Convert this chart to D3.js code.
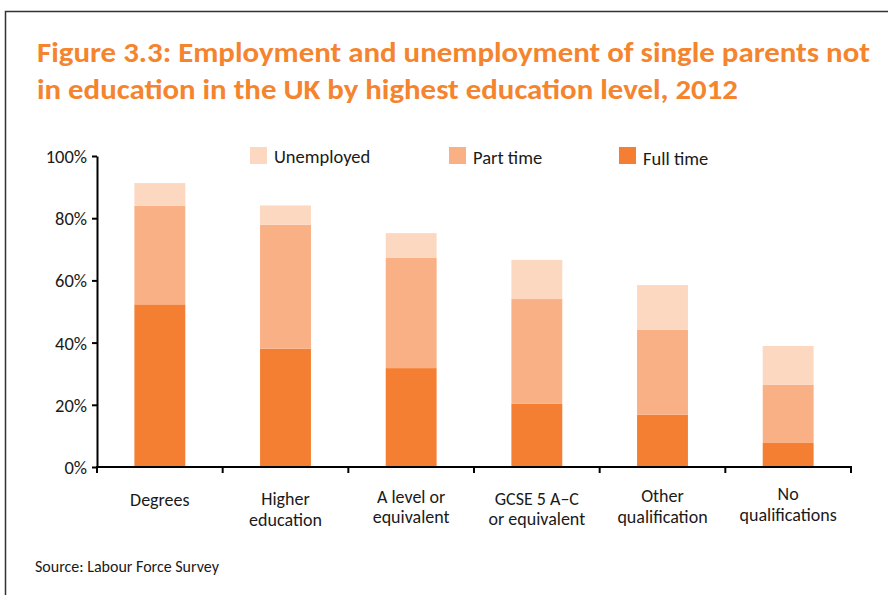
<!DOCTYPE html>
<html>
<head>
<meta charset="utf-8">
<script src="https://cdn.jsdelivr.net/npm/d3@7"></script>
<style>
  html, body { margin: 0; padding: 0; background: #fff; }
  svg { display: block; }
  text { font-family: Carlito, Lato, "Open Sans", sans-serif; }
</style>
</head>
<body>
<svg id="chart" width="888" height="595"></svg>
<script>
const categories = [
  ["Degrees"],
  ["Higher", "education"],
  ["A level or", "equivalent"],
  ["GCSE 5 A\u2013C", "or equivalent"],
  ["Other", "qualification"],
  ["No", "qualifications"]
];
const fullTime   = [52.3, 38.0, 31.8, 20.3, 16.8, 7.9];
const partTime   = [31.7, 39.9, 35.4, 33.7, 27.3, 18.6];
const unemployed = [7.3, 6.2, 8.0, 12.6, 14.4, 12.4];
const seriesNames = ["Full time", "Part time", "Unemployed"];
const seriesColors = ["#F47F32", "#F9B085", "#FCD8C1"];
const yTicks = [0, 20, 40, 60, 80, 100];
const titleLines = [
  "Figure 3.3: Employment and unemployment of single parents not",
  "in education in the UK by highest education level, 2012"
];
const sourceText = "Source: Labour Force Survey";

const svg = d3.select("#chart");

// frame
svg.append("path")
  .attr("d", "M5.5,600 L5.5,11.5 L895,11.5")
  .attr("fill", "none").attr("stroke", "#333").attr("stroke-width", 1.5);

// title
const titleWidths = [833, 701];
titleLines.forEach((t, i) => {
  svg.append("text")
    .attr("x", 37).attr("y", 62 + i * 36.5)
    .attr("font-size", 29).attr("font-weight", "bold")
    .attr("fill", "#F5842E")
    .attr("textLength", titleWidths[i])
    .attr("lengthAdjust", "spacingAndGlyphs")
    .text(t);
});

const x = d3.scaleBand().domain(d3.range(categories.length)).range([97, 851]).padding(0);
const y = d3.scaleLinear().domain([0, 100]).range([467, 156]);

const rows = categories.map((c, i) => ({
  i, "Full time": fullTime[i], "Part time": partTime[i], "Unemployed": unemployed[i]
}));
const stack = d3.stack().keys(seriesNames)(rows);
const barW = x.bandwidth() * 0.405;

const g = svg.append("g");
stack.forEach((layer, li) => {
  g.selectAll(null).data(layer).enter().append("rect")
    .attr("x", d => x(d.data.i) + (x.bandwidth() - barW) / 2)
    .attr("y", d => y(d[1]))
    .attr("width", barW)
    .attr("height", d => y(d[0]) - y(d[1]))
    .attr("fill", seriesColors[li]);
});

// y axis
const yAxis = svg.append("g").attr("transform", "translate(97,0)")
  .call(d3.axisLeft(y).tickValues(yTicks).tickFormat(d => d + "%").tickSize(5).tickSizeOuter(0));
yAxis.select(".domain").attr("stroke", "#000").attr("stroke-width", 2);
yAxis.selectAll(".tick line").attr("stroke", "#000").attr("stroke-width", 2);
yAxis.selectAll(".tick text").attr("font-size", 18.5).attr("fill", "#1a1a1a")
  .attr("x", -10).attr("dy", "0.35em")
  .style("font-family", "Carlito, Lato, 'Open Sans', sans-serif");

// x axis line and ticks at band boundaries
svg.append("line").attr("x1", 96).attr("x2", x.range()[1] + 1)
  .attr("y1", y(0)).attr("y2", y(0)).attr("stroke", "#000").attr("stroke-width", 2);
const boundaries = d3.range(categories.length).map(i => x(i)).concat([x.range()[1]]);
svg.selectAll(null).data(boundaries).enter().append("line")
  .attr("x1", d => d).attr("x2", d => d)
  .attr("y1", y(0)).attr("y2", y(0) + 6)
  .attr("stroke", "#000").attr("stroke-width", 2);

// category labels (each line as its own text element)
const labelBase = [506, 505, 502.5, 504.5, 502, 500];
const lineGap = 20.5;
categories.forEach((lines, i) => {
  lines.forEach((l, j) => {
    svg.append("text")
      .attr("x", x(i) + x.bandwidth() / 2)
      .attr("y", labelBase[i] + j * lineGap)
      .attr("text-anchor", "middle")
      .attr("font-size", 18).attr("fill", "#1a1a1a")
      .text(l);
  });
});

// legend
const legendItems = [
  { name: "Unemployed", color: seriesColors[2], x: 250, base: 162.7 },
  { name: "Part time", color: seriesColors[1], x: 449, base: 163.5 },
  { name: "Full time", color: seriesColors[0], x: 619, base: 165 }
];
legendItems.forEach(d => {
  svg.append("rect").attr("x", d.x).attr("y", 147).attr("width", 17).attr("height", 17).attr("fill", d.color);
  svg.append("text").attr("x", d.x + 24).attr("y", d.base)
    .attr("font-size", 18.5).attr("fill", "#1a1a1a").text(d.name);
});

// source
svg.append("text").attr("x", 35).attr("y", 572)
  .attr("font-size", 16).attr("fill", "#1a1a1a").text(sourceText);
</script>
</body>
</html>
